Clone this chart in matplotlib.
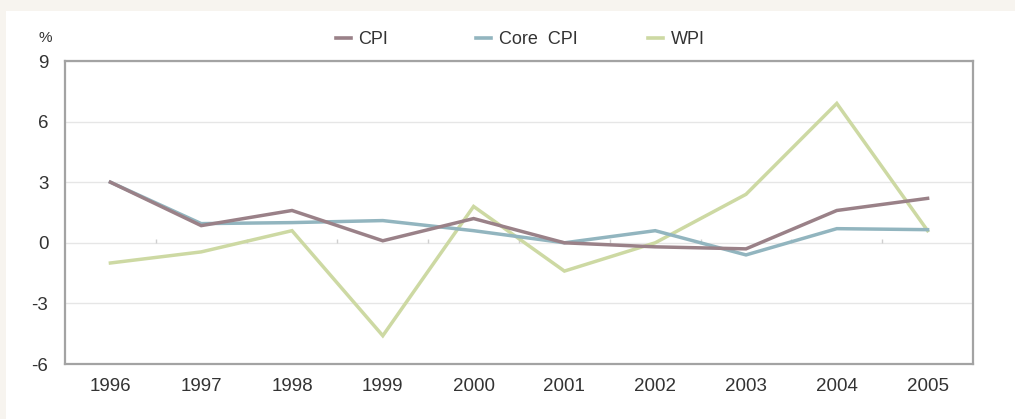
import numpy as np
import matplotlib
matplotlib.use("Agg")
import matplotlib.pyplot as plt
from matplotlib.patches import Rectangle
from matplotlib.lines import Line2D

years = ["1996", "1997", "1998", "1999", "2000", "2001", "2002", "2003", "2004", "2005"]
cpi = [3.0, 0.85, 1.6, 0.1, 1.2, 0.0, -0.2, -0.3, 1.6, 2.2]
core_cpi = [3.0, 0.95, 1.0, 1.1, 0.6, 0.0, 0.6, -0.6, 0.7, 0.65]
wpi = [-1.0, -0.45, 0.6, -4.6, 1.8, -1.4, 0.0, 2.4, 6.9, 0.6]
y_ticks = [-6, -3, 0, 3, 6, 9]

series_names = ["CPI", "Core  CPI", "WPI"]
series_colors = ["#9a8188", "#92b5bf", "#cdd9a3"]
series_z = [5, 4, 3]

plt.rcParams["font.family"] = ["Liberation Sans", "DejaVu Sans"]

W, H = 1015, 419
fig = plt.figure(figsize=(W / 100, H / 100), dpi=100, facecolor="#f7f4ef")
# white card behind the chart
fig.patches.append(Rectangle((6 / W, 0), 1 - 6 / W, 1 - 11 / H,
                             transform=fig.transFigure, facecolor="white",
                             edgecolor="none", zorder=-10))

ax = fig.add_axes([65 / W, 1 - 364 / H, (973 - 65) / W, (364 - 61) / H])
ax.set_facecolor("white")

x = np.arange(len(years))
for vals, name, col, z in zip([cpi, core_cpi, wpi], series_names, series_colors, series_z):
    ax.plot(x, vals, color=col, lw=2.5, solid_joinstyle="miter", label=name, zorder=z)

ax.set_xlim(-0.5, len(years) - 0.5)
ax.set_ylim(y_ticks[0], y_ticks[-1])
ax.set_yticks(y_ticks)
ax.set_yticklabels([str(t) for t in y_ticks])
ax.set_xticks(x)
ax.set_xticklabels(years)
ax.tick_params(axis="both", length=0, labelsize=13.5, colors="#333333")
ax.tick_params(axis="x", pad=10)
ax.tick_params(axis="y", pad=12)

ax.grid(axis="y", color="#e6e6e6", lw=1, zorder=1)
ax.set_axisbelow(True)
for s in ax.spines.values():
    s.set_color("#a3a3a3")
    s.set_linewidth(1.6)

# category boundary ticks on the zero line
ax.vlines(x[:-1] + 0.5, 0, 0.17, color="#cfcfcf", lw=1, zorder=2)

fig.text(45 / W, 1 - 38 / H, "%", ha="center", va="center", fontsize=11, color="#333333")

# legend entries placed across the top
legend_x = [336, 476, 648]
for name, col, lx in zip(series_names, series_colors, legend_x):
    h = Line2D([], [], color=col, lw=2.6)
    fig.legend([h], [name], loc="center left", bbox_to_anchor=(lx / W, 1 - 40 / H),
               frameon=False, fontsize=13, handlelength=0.85, handletextpad=0.4,
               borderpad=0, borderaxespad=0, labelcolor="#333333")

fig.savefig("out.png", dpi=100, facecolor=fig.get_facecolor())
